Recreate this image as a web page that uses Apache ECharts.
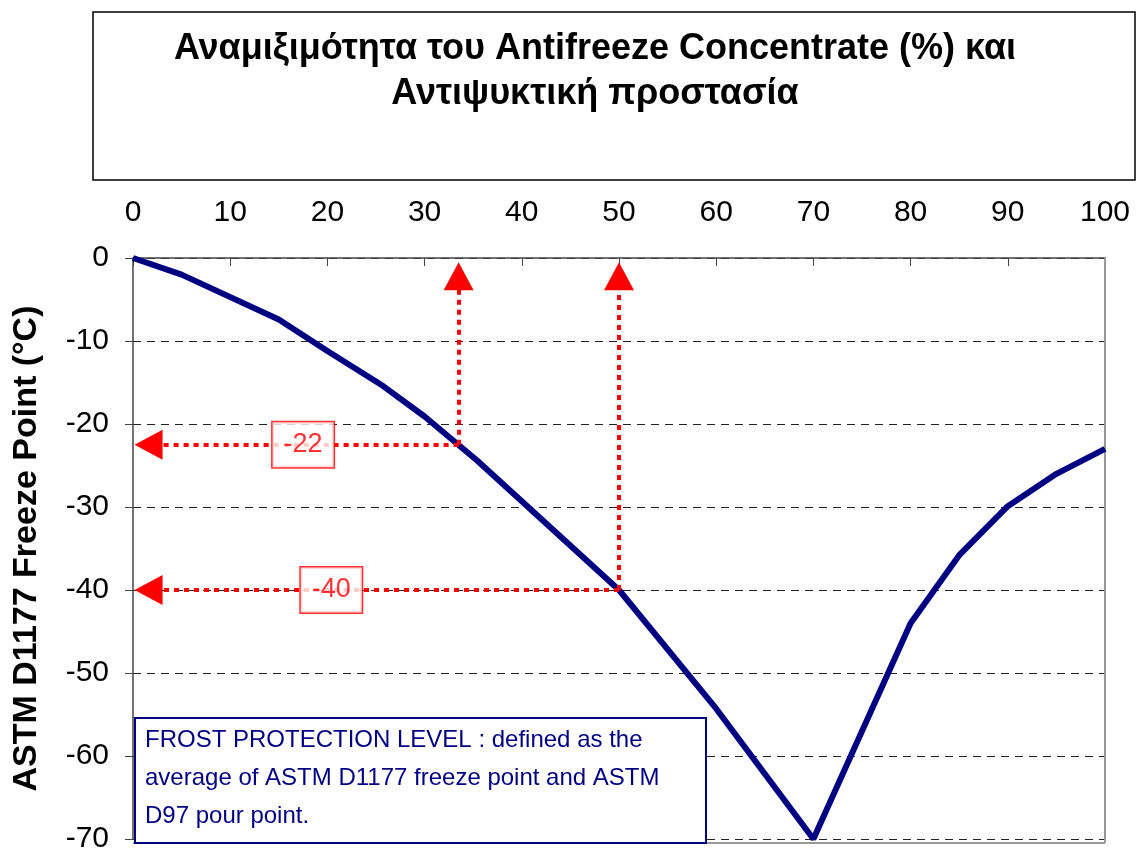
<!DOCTYPE html>
<html>
<head>
<meta charset="utf-8">
<script src="https://cdn.jsdelivr.net/npm/echarts@6/dist/echarts.min.js"></script>
<style>
  html, body { margin: 0; padding: 0; background: #fff; }
  #chart { width: 1137px; height: 854px; }
</style>
</head>
<body>
<div id="chart"></div>
<script>
// concentration (%) vs freeze point (°C)
const concentration = [0, 5, 15, 20, 25.7, 30, 35.4, 40, 50, 60, 70, 80, 85, 90, 95, 100];
const freezePoint   = [0, -2, -7.4, -11.2, -15.4, -19.1, -24.4, -29.3, -40, -54.3, -70, -44, -35.8, -29.9, -26, -23];

// reading guides (dotted red arrows)
const guideX = [33.5, 50];
const guideY = [-22.5, -40];
const guideText = ['-22', '-40'];
const guideLabelX = [17.5, 20.4];

const chart = echarts.init(document.getElementById('chart'));
const font = '"Liberation Sans", Arial, sans-serif';
const navy = '#000080';
const red = '#ff0000';

const guideStyle = { color: red, width: 4, type: [5, 5], cap: 'butt' };
const markData = [];
guideX.forEach((gx, i) => {
    markData.push([{ coord: [gx, guideY[i]] }, { coord: [gx, -2.2] }]);
    markData.push([{ coord: [gx, guideY[i]] }, { coord: [1.6, guideY[i]] }]);
});

chart.setOption({
    animation: false,
    backgroundColor: '#fff',
    grid: { left: 133, right: 32, top: 258, bottom: 11 },
    xAxis: {
        type: 'value',
        position: 'top',
        min: 0, max: 100, interval: 10,
        axisLine: { show: true, lineStyle: { color: '#444', width: 1.5 } },
        axisTick: { show: true, inside: true, length: 8, lineStyle: { color: '#444' } },
        axisLabel: { fontSize: 30, color: '#000', fontFamily: font, margin: 30 },
        splitLine: { show: false }
    },
    yAxis: {
        type: 'value',
        min: -70, max: 0, interval: 10,
        name: 'ASTM D1177 Freeze Point (°C)',
        nameLocation: 'middle',
        nameGap: 89,
        nameTextStyle: { fontSize: 34, fontWeight: 'bold', color: '#000', fontFamily: font },
        axisLine: { show: true, lineStyle: { color: '#444', width: 1.5 } },
        axisTick: { show: true, length: 8, lineStyle: { color: '#444' } },
        axisLabel: { fontSize: 30, color: '#000', fontFamily: font, margin: 24 },
        splitLine: { show: true, lineStyle: { color: '#222', type: [8, 6], width: 1 } }
    },
    graphic: [
        // title box
        { type: 'rect', shape: { x: 93, y: 12, width: 1042, height: 168 },
          style: { fill: '#fff', stroke: '#000', lineWidth: 1.5 }, z: 0 },
        { type: 'text', x: 595, y: 27, z: 1,
          style: { text: 'Αναμιξιμότητα του Antifreeze Concentrate (%) και\nΑντιψυκτική προστασία',
                   align: 'center', fill: '#000', font: 'bold 36px ' + font, lineHeight: 45 } },
        // plot border right and bottom
        { type: 'line', shape: { x1: 1105, y1: 258, x2: 1105, y2: 843 },
          style: { stroke: '#999', lineWidth: 2 }, z: 1 },
        { type: 'line', shape: { x1: 133, y1: 843, x2: 1105, y2: 843 },
          style: { stroke: '#999', lineWidth: 2 }, z: 1 },
        // note box
        { type: 'rect', shape: { x: 135, y: 718, width: 571, height: 125 },
          style: { fill: '#fff', stroke: navy, lineWidth: 2 }, z: 5 },
        { type: 'text', x: 145, y: 721, z: 6,
          style: { text: 'FROST PROTECTION LEVEL : defined as the\naverage of ASTM D1177 freeze point and ASTM\nD97 pour point.',
                   fill: navy, font: '24px ' + font, lineHeight: 38 } }
    ],
    series: [
        {
            type: 'line',
            data: concentration.map((c, i) => [c, freezePoint[i]]),
            showSymbol: false,
            lineStyle: { color: navy, width: 6 },
            z: 3
        },
        {
            type: 'line',
            data: [],
            silent: true,
            markLine: {
                silent: true,
                symbol: ['none', 'triangle'],
                symbolSize: [30, 28],
                label: { show: false },
                lineStyle: guideStyle,
                itemStyle: { color: red },
                data: markData
            },
            z: 4
        },
        {
            type: 'scatter',
            symbolSize: 0,
            data: guideLabelX.map((x, i) => [x, guideY[i], guideText[i]]),
            label: {
                show: true,
                position: 'inside',
                formatter: p => p.value[2],
                fontSize: 27,
                fontFamily: font,
                color: red,
                backgroundColor: '#fff',
                borderColor: red,
                borderWidth: 1.5,
                padding: [9, 11]
            },
            z: 6
        }
    ]
});
</script>
</body>
</html>
